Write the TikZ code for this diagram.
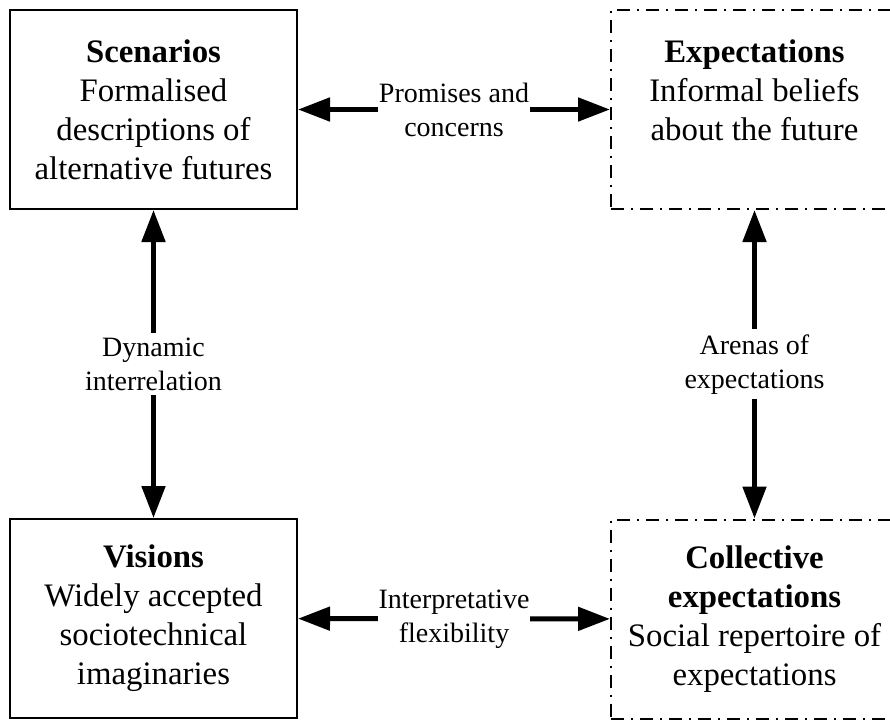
\documentclass[tikz,border=0pt]{standalone}
\usepackage{fontspec}
\setmainfont{Liberation Serif}
\usetikzlibrary{arrows.meta}
\tikzset{
  box/.style={draw=black, line width=2pt, fill=white, minimum width=287pt, minimum height=199pt,
    align=center, inner sep=0pt, font=\fontsize{32.8pt}{39pt}\selectfont},
  solidbox/.style={box},
  dashbox/.style={box, dash pattern=on 13pt off 7pt on 2pt off 7pt},
  conn/.style={line width=5pt, {Triangle[length=32pt,width=23pt]}-{Triangle[length=32pt,width=23pt]}},
  lbl/.style={fill=white, align=center, inner xsep=1pt, inner ysep=5pt,
    font=\fontsize{28pt}{34pt}\selectfont}
}
\begin{document}
\begin{tikzpicture}[x=1pt,y=-1pt]
\clip (0,0) rectangle (890,720);
\fill[white] (0,0) rectangle (890,720);
\node[solidbox] (sc) at (153.5,109.5) {{\bfseries Scenarios}\\Formalised\\descriptions of\\alternative futures};
\node[dashbox] (ex) at (754.5,109.5) {{\bfseries Expectations}\\Informal beliefs\\about the future\\\mbox{}};
\node[solidbox] (vi) at (153.5,618.5) {{\bfseries Visions}\\Widely accepted\\sociotechnical\\imaginaries};
\node[dashbox] (ce) at (754.5,619) {{\bfseries Collective}\\{\bfseries expectations}\\Social repertoire of\\expectations};
\draw[conn] (sc) -- (ex) node[lbl, midway] (l1) {Promises and\\concerns};
\draw[conn] (sc) -- (vi) node[lbl, midway] (l2) {Dynamic\\interrelation};
\draw[conn] (ex) -- (ce) node[lbl, midway] (l3) {Arenas of\\expectations};
\draw[conn] (vi) -- (ce) node[lbl, midway] (l4) {Interpretative\\flexibility};
\end{tikzpicture}
\end{document}
